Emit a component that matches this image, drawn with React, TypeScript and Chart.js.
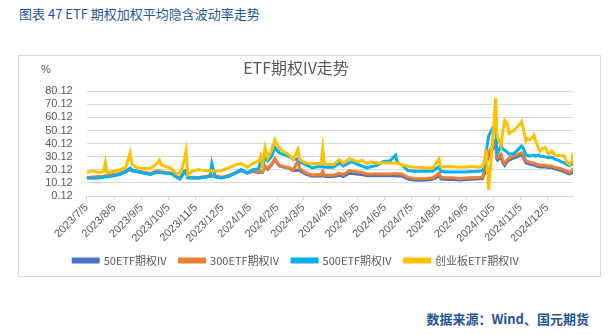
import React, { useEffect, useRef } from "react";
import { Chart, registerables } from "chart.js";

Chart.register(...registerables);

// ---- data ----
const dates = [
  "2023-07-05", "2023-07-12", "2023-07-19", "2023-07-24", "2023-07-26", "2023-07-28",
  "2023-08-04", "2023-08-11", "2023-08-18", "2023-08-23", "2023-08-25", "2023-08-31",
  "2023-09-08", "2023-09-15", "2023-09-21", "2023-09-25", "2023-09-27", "2023-10-09",
  "2023-10-13", "2023-10-18", "2023-10-20", "2023-10-23", "2023-10-25", "2023-10-27",
  "2023-11-01", "2023-11-08", "2023-11-15", "2023-11-21", "2023-11-23", "2023-11-27",
  "2023-12-04", "2023-12-13", "2023-12-20", "2023-12-26", "2024-01-02", "2024-01-08",
  "2024-01-15", "2024-01-17", "2024-01-19", "2024-01-22", "2024-01-25", "2024-01-29",
  "2024-02-02", "2024-02-07", "2024-02-19", "2024-02-23", "2024-02-28", "2024-03-01",
  "2024-03-08", "2024-03-15", "2024-03-22", "2024-03-25", "2024-03-27", "2024-03-29",
  "2024-04-08", "2024-04-15", "2024-04-19", "2024-04-26", "2024-04-29", "2024-05-06",
  "2024-05-10", "2024-05-16", "2024-05-20", "2024-05-27", "2024-06-03", "2024-06-11",
  "2024-06-17", "2024-06-19", "2024-06-24", "2024-07-01", "2024-07-08", "2024-07-15",
  "2024-07-22", "2024-07-29", "2024-08-05", "2024-08-07", "2024-08-14", "2024-08-21",
  "2024-08-28", "2024-09-04", "2024-09-11", "2024-09-19", "2024-09-23", "2024-09-24",
  "2024-09-26", "2024-09-27", "2024-09-30", "2024-10-08", "2024-10-09", "2024-10-10",
  "2024-10-14", "2024-10-16", "2024-10-18", "2024-10-21", "2024-10-23", "2024-10-28",
  "2024-10-31", "2024-11-04", "2024-11-06", "2024-11-08", "2024-11-11", "2024-11-13",
  "2024-11-15", "2024-11-18", "2024-11-20", "2024-11-22", "2024-11-25", "2024-11-27",
  "2024-11-29", "2024-12-03", "2024-12-06", "2024-12-10", "2024-12-13", "2024-12-17",
  "2024-12-20", "2024-12-24", "2024-12-27", "2024-12-30", "2025-01-02", "2025-01-03",
];

const ivCyb = [
  18.2, 19.0, 18.0, 18.8, 25.4, 17.7,
  19.0, 20.1, 22.0, 33.1, 24.2, 21.6,
  20.9, 21.6, 24.0, 27.5, 24.0, 20.9,
  17.7, 17.5, 20.3, 27.5, 34.4, 16.5,
  19.0, 20.3, 19.5, 19.0, 19.5, 19.0,
  19.5, 22.0, 24.0, 24.8, 22.3, 24.8,
  26.8, 30.6, 24.0, 37.0, 29.3, 34.4,
  43.0, 36.0, 31.0, 28.0, 35.7, 28.0,
  25.4, 25.0, 24.9, 24.5, 36.5, 24.5,
  24.0, 28.0, 25.0, 28.7, 28.0, 26.0,
  27.5, 24.9, 26.0, 25.4, 25.4, 25.4,
  25.4, 25.0, 24.0, 22.6, 22.0, 22.0,
  21.5, 21.5, 28.5, 22.5, 22.6, 22.5,
  22.0, 22.3, 22.6, 22.0, 22.5, 24.0,
  30.0, 35.8, 4.8, 75.0, 49.0, 45.0,
  38.3, 50.0, 57.7, 55.5, 47.8, 50.0,
  52.0, 55.0, 57.0, 52.0, 42.2, 44.0,
  43.0, 44.5, 46.6, 42.0, 37.0, 34.4,
  36.0, 37.2, 32.0, 34.5, 32.0, 30.8,
  31.0, 30.8, 26.0, 24.2, 26.5, 33.1,
];

const iv500 = [
  13.8, 13.6, 13.9, 14.5, 15.0, 14.6,
  15.6, 16.5, 19.0, 21.5, 20.0, 19.0,
  17.5, 16.5, 18.0, 18.2, 17.8, 17.2,
  15.0, 13.1, 15.0, 19.0, 19.5, 14.0,
  13.8, 13.8, 14.5, 15.5, 25.0, 14.5,
  13.8, 15.5, 18.0, 20.3, 17.7, 20.3,
  21.0, 28.0, 23.0, 29.3, 27.0, 30.0,
  37.0, 33.0, 30.0, 28.0, 28.5, 26.0,
  24.0, 21.5, 22.6, 22.3, 23.0, 22.0,
  22.0, 25.4, 23.0, 25.5, 26.3, 24.0,
  23.0, 21.5, 22.5, 23.5, 26.3, 27.0,
  31.4, 25.5, 24.0, 19.5, 19.0, 19.0,
  19.0, 19.2, 22.6, 19.0, 18.5, 18.5,
  18.5, 18.5, 18.8, 19.0, 19.5, 21.0,
  23.5, 33.0, 46.0, 57.0, 36.0, 33.0,
  38.3, 36.0, 35.0, 33.5, 32.0, 32.5,
  34.0, 37.0, 38.3, 36.5, 31.4, 31.0,
  30.5, 31.0, 31.4, 30.5, 31.4, 30.5,
  30.5, 30.0, 29.3, 29.8, 28.5, 27.5,
  26.5, 25.5, 24.0, 23.5, 24.5, 27.0,
];

const iv300 = [
  14.5, 14.6, 15.0, 15.2, 15.6, 15.5,
  16.5, 17.3, 19.0, 20.9, 20.0, 19.0,
  18.0, 17.5, 19.0, 19.2, 18.6, 17.5,
  15.5, 13.8, 16.0, 19.0, 19.5, 14.5,
  14.5, 14.3, 15.0, 15.5, 15.8, 15.5,
  14.5, 16.0, 18.0, 20.0, 18.0, 19.5,
  18.5, 19.0, 18.5, 23.0, 21.0, 24.0,
  28.5, 23.5, 21.5, 20.0, 27.0, 21.0,
  17.7, 16.0, 16.5, 16.3, 19.0, 16.0,
  16.0, 17.5, 16.5, 19.5, 19.0, 18.5,
  18.0, 17.0, 17.0, 17.0, 17.0, 17.0,
  17.2, 17.0, 17.0, 14.3, 13.5, 13.3,
  13.5, 14.0, 17.5, 14.5, 14.0, 14.0,
  13.3, 13.8, 14.0, 14.3, 14.5, 17.5,
  20.0, 27.0, 33.0, 43.0, 30.0, 29.3,
  32.0, 27.0, 25.0, 28.0, 29.0, 30.5,
  31.4, 32.5, 33.0, 31.0, 27.0, 26.5,
  26.0, 25.5, 25.4, 24.5, 24.0, 23.5,
  23.5, 23.5, 23.0, 23.0, 22.0, 21.5,
  21.0, 20.0, 19.0, 18.2, 19.0, 21.5,
];

const iv50 = [
  14.0, 14.1, 14.5, 14.7, 15.1, 15.0,
  16.0, 16.8, 18.5, 20.4, 19.5, 18.6,
  17.6, 17.0, 18.5, 18.7, 18.2, 17.0,
  15.0, 13.4, 15.5, 18.5, 19.0, 14.0,
  14.0, 13.9, 14.6, 15.0, 15.3, 15.0,
  14.0, 15.5, 17.6, 19.5, 17.5, 19.0,
  18.0, 18.6, 18.1, 22.5, 20.5, 23.5,
  28.0, 23.0, 21.0, 19.5, 20.0, 19.5,
  16.8, 15.2, 15.5, 15.3, 16.5, 15.0,
  15.0, 16.0, 15.0, 17.5, 17.3, 16.8,
  16.5, 15.6, 15.6, 15.5, 15.5, 15.5,
  15.6, 15.4, 15.5, 13.0, 12.4, 12.2,
  12.3, 12.8, 15.5, 13.2, 12.8, 12.8,
  12.4, 12.8, 13.0, 13.3, 13.5, 15.5,
  18.5, 25.0, 31.0, 40.5, 28.5, 27.5,
  30.0, 25.5, 23.5, 26.5, 27.5, 29.0,
  29.8, 31.0, 31.5, 29.5, 25.5, 25.0,
  24.5, 24.0, 24.0, 23.2, 22.7, 22.3,
  22.3, 22.2, 21.8, 21.8, 20.8, 20.3,
  19.8, 18.8, 17.8, 17.0, 17.8, 20.0,
];

const seriesNames = ["50ETF期权IV", "300ETF期权IV", "500ETF期权IV", "创业板ETF期权IV"];
const seriesColors = ["#4472C4", "#ED7D31", "#00B0F0", "#FFC000"];
const yTicks = [0.12, 10.12, 20.12, 30.12, 40.12, 50.12, 60.12, 70.12, 80.12];
const xTickLabels = [
  "2023/7/5", "2023/8/5", "2023/9/5", "2023/10/5", "2023/11/5", "2023/12/5",
  "2024/1/5", "2024/2/5", "2024/3/5", "2024/4/5", "2024/5/5", "2024/6/5",
  "2024/7/5", "2024/8/5", "2024/9/5", "2024/10/5", "2024/11/5", "2024/12/5",
];

const dayIndex = (s: string) => {
  const [y, m, d] = s.split(/[-/]/).map(Number);
  return Math.round((Date.UTC(y, m - 1, d) - Date.UTC(2023, 6, 5)) / 86400000);
};

const TICK_FONT = "'Liberation Sans', 'Noto Sans CJK SC', sans-serif";
const CJK_FONT = "'Noto Sans CJK SC', 'Liberation Sans', sans-serif";

export default function App() {
  const canvasRef = useRef<HTMLCanvasElement | null>(null);

  useEffect(() => {
    if (!canvasRef.current) return;
    const allSeries = [iv50, iv300, iv500, ivCyb];
    const xs = dates.map(dayIndex);
    const chart = new Chart(canvasRef.current, {
      type: "line",
      data: {
        datasets: allSeries.map((vals, i) => ({
          label: seriesNames[i],
          data: vals.map((v, j) => ({ x: xs[j], y: v })),
          borderColor: seriesColors[i],
          backgroundColor: seriesColors[i],
          borderWidth: 3,
          pointRadius: 0,
          tension: 0,
          order: 4 - i,
        })),
      },
      options: {
        animation: false,
        responsive: false,
        maintainAspectRatio: false,
        layout: { padding: { left: 0, right: 26, top: 0, bottom: 0 } },
        plugins: {
          title: {
            display: true,
            text: "ETF期权IV走势",
            color: "#595959",
            font: { family: CJK_FONT, size: 16, weight: "normal" },
            padding: { top: 2, bottom: 14 },
          },
          legend: {
            position: "bottom",
            labels: {
              boxWidth: 25,
              boxHeight: 3,
              padding: 13,
              color: "#595959",
              font: { family: CJK_FONT, size: 11 },
              sort: (a: any, b: any) => a.datasetIndex - b.datasetIndex,
            },
          },
          tooltip: { enabled: false },
        },
        scales: {
          x: {
            type: "linear",
            min: 0,
            max: xs[xs.length - 1],
            afterBuildTicks: (scale: any) => {
              scale.ticks = xTickLabels.map((s) => ({ value: dayIndex(s) }));
            },
            afterFit: (scale: any) => {
              scale.height = 46;
            },
            ticks: {
              autoSkip: false,
              maxRotation: 45,
              minRotation: 45,
              padding: 1,
              color: "#595959",
              font: { family: TICK_FONT, size: 11 },
              callback: (_v: any, idx: number) => xTickLabels[idx],
            },
            grid: {
              display: true,
              drawOnChartArea: false,
              drawTicks: true,
              tickLength: 4,
              color: "#d9d9d9",
            },
            border: { display: true, color: "#d9d9d9" },
          },
          y: {
            type: "linear",
            min: 0.12,
            max: 80.12,
            afterBuildTicks: (scale: any) => {
              scale.ticks = yTicks.map((v) => ({ value: v }));
            },
            afterFit: (scale: any) => {
              scale.width = 67.7;
            },
            ticks: {
              autoSkip: false,
              padding: 14,
              color: "#595959",
              font: { family: TICK_FONT, size: 11 },
              callback: (v: any) => Number(v).toFixed(2),
            },
            grid: { color: "#d9d9d9", drawTicks: false, lineWidth: 1 },
            border: { display: false },
          },
        },
      },
    });
    return () => chart.destroy();
  }, []);

  return (
    <div style={{ position: "absolute", left: 0, top: 0, width: 611, height: 335, background: "#fff", overflow: "hidden" }}>
      <div
        style={{
          position: "absolute", left: 19, top: 5, fontFamily: CJK_FONT, fontSize: 13,
          lineHeight: "18px", color: "#1F5597", whiteSpace: "nowrap",
        }}
      >
        图表 47 ETF 期权加权平均隐含波动率走势
      </div>
      <div
        style={{
          position: "absolute", left: 18, top: 55, width: 583, height: 222,
          border: "1px solid #d9d9d9", boxSizing: "border-box",
        }}
      />
      <div
        style={{
          position: "absolute", left: 41, top: 62, fontFamily: TICK_FONT, fontSize: 11,
          lineHeight: "14px", color: "#595959",
        }}
      >
        %
      </div>
      <canvas
        ref={canvasRef}
        width={580}
        height={220}
        style={{ position: "absolute", left: 19, top: 56, width: 580, height: 220 }}
      />
      <div
        style={{
          position: "absolute", right: 22, top: 310, fontFamily: CJK_FONT, fontSize: 13,
          lineHeight: "17px", color: "#1F5597", fontWeight: "bold", whiteSpace: "nowrap",
        }}
      >
        数据来源：Wind、国元期货
      </div>
    </div>
  );
}
